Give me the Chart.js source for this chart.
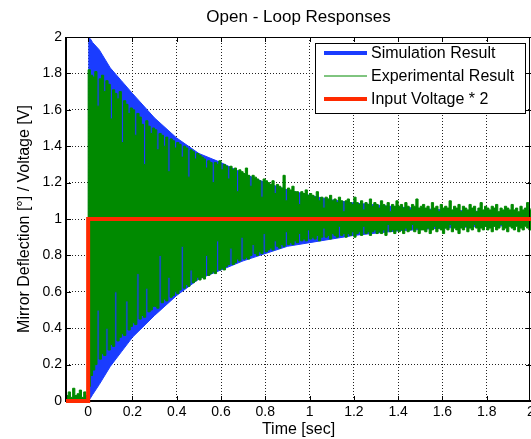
<!DOCTYPE html>
<html>
<head>
<meta charset="utf-8">
<script src="https://cdn.jsdelivr.net/npm/chart.js@4.4.1/dist/chart.umd.min.js"></script>
<style>
  html, body { margin: 0; padding: 0; background: #fff; }
  #wrap { width: 531px; height: 439px; }
</style>
</head>
<body>
<div id="wrap"><canvas id="grafico" width="531" height="439"></canvas></div>
<script>
const fonte = '"Liberation Sans", Arial, Helvetica, sans-serif';

// --- Eixos ---
const xTicks = [0, 0.2, 0.4, 0.6, 0.8, 1, 1.2, 1.4, 1.6, 1.8, 2];
const xTickLabels = ["0", "0.2", "0.4", "0.6", "0.8", "1", "1.2", "1.4", "1.6", "1.8", "2"];
const yTicks = [0, 0.2, 0.4, 0.6, 0.8, 1, 1.2, 1.4, 1.6, 1.8, 2];
const yTickLabels = ["0", "0.2", "0.4", "0.6", "0.8", "1", "1.2", "1.4", "1.6", "1.8", "2"];

// --- Simulação (envelope da oscilação) ---
const simTempo = [0, 0.01, 0.02, 0.05, 0.1, 0.15, 0.2, 0.3, 0.4, 0.5, 0.6, 0.7, 0.8, 0.9, 1.0, 1.1, 1.2, 1.4, 1.6, 1.8, 2.0];
const simSuperior = [2.0, 1.99, 1.97, 1.93, 1.83, 1.76, 1.69, 1.555, 1.445, 1.36, 1.31, 1.25, 1.20, 1.16, 1.13, 1.105, 1.088, 1.066, 1.05, 1.04, 1.03];
const simInferior = [0, 0.015, 0.035, 0.09, 0.19, 0.27, 0.35, 0.47, 0.58, 0.67, 0.72, 0.77, 0.81, 0.85, 0.87, 0.89, 0.91, 0.935, 0.95, 0.96, 0.965];

// --- Experimental (envelope amostrado a cada 0.01 s, começando em -0.1 s) ---
const expInicio = -0.1;
const expPasso = 0.01;
const expSuperior = [
  0.03, 0.05, 0.02, 0.07, 0.03, 0.04, 0.06, 0.02, 0.05, 0.03,
  1.82, 1.79, 1.78, 1.81, 1.62, 1.77, 1.79, 1.70, 1.76, 1.74,
  1.55, 1.71, 1.69, 1.66, 1.70, 1.42, 1.65, 1.63, 1.58, 1.61,
  1.60, 1.46, 1.58, 1.56, 1.52, 1.30, 1.54, 1.51, 1.47, 1.50,
  1.49, 1.38, 1.47, 1.46, 1.40, 1.45, 1.26, 1.44, 1.43, 1.39,
  1.42, 1.41, 1.34, 1.40, 1.39, 1.23, 1.38, 1.37, 1.33, 1.36,
  1.35,
  1.34, 1.33, 1.28, 1.32, 1.31, 1.20, 1.31, 1.30, 1.32, 1.27,
  1.30, 1.29, 1.22, 1.29, 1.27, 1.28, 1.15, 1.27, 1.26, 1.25,
  1.28, 1.24, 1.18, 1.24, 1.23, 1.22, 1.21, 1.12, 1.22, 1.21,
  1.20, 1.19, 1.21, 1.14, 1.19, 1.18, 1.17, 1.24, 1.10, 1.17,
  1.16, 1.18, 1.15, 1.15, 1.08, 1.15, 1.14, 1.16, 1.13, 1.14,
  1.13, 1.12, 1.15, 1.10, 1.12, 1.06, 1.12, 1.11, 1.13, 1.10,
  1.11, 1.09, 1.12, 1.10, 1.04, 1.10, 1.11, 1.09, 1.08, 1.12,
  1.09, 1.08, 1.10, 1.05, 1.09, 1.08, 1.11, 1.07, 1.09, 1.08,
  1.06, 1.10, 1.08, 1.07, 1.09, 1.04, 1.08, 1.07, 1.10, 1.07,
  1.08, 1.06, 1.09, 1.07, 1.05, 1.08, 1.07, 1.11, 1.06, 1.07,
  1.08, 1.06, 1.07, 1.05, 1.09, 1.06, 1.07, 1.04, 1.08, 1.06,
  1.07, 1.06, 1.10, 1.05, 1.07, 1.06, 1.08, 1.04, 1.07, 1.06,
  1.05, 1.08, 1.06, 1.07, 1.04, 1.06, 1.09, 1.05, 1.07, 1.06,
  1.05, 1.07, 1.06, 1.08, 1.04, 1.06, 1.05, 1.07, 1.06, 1.05,
  1.08, 1.05, 1.06, 1.04, 1.07, 1.05, 1.06, 1.09, 1.05, 1.06
];
const expInferior = [
  0, 0, 0, 0, 0, 0, 0, 0, 0, 0,
  0.08, 0.14, 0.17, 0.20, 0.50, 0.23, 0.26, 0.25, 0.40, 0.28,
  0.31, 0.30, 0.60, 0.33, 0.35, 0.37, 0.36, 0.55, 0.39, 0.41,
  0.43, 0.42, 0.70, 0.45, 0.47, 0.46, 0.62, 0.49, 0.50, 0.52,
  0.52, 0.51, 0.80, 0.54, 0.56, 0.55, 0.68, 0.57, 0.58, 0.60,
  0.59, 0.61, 0.85, 0.62, 0.64, 0.63, 0.72, 0.65, 0.66, 0.68,
  0.665,
  0.68, 0.67, 0.80, 0.69, 0.70, 0.71, 0.70, 0.88, 0.72, 0.73,
  0.72, 0.74, 0.75, 0.84, 0.75, 0.76, 0.78, 0.77, 0.90, 0.78,
  0.79, 0.78, 0.80, 0.86, 0.81, 0.80, 0.82, 0.81, 0.92, 0.82,
  0.83, 0.84, 0.83, 0.88, 0.85, 0.84, 0.86, 0.85, 0.93, 0.86,
  0.87, 0.86, 0.88, 0.87, 0.92, 0.88, 0.89, 0.88, 0.94, 0.89,
  0.90, 0.89, 0.91, 0.88, 0.90, 0.95, 0.90, 0.91, 0.89, 0.92,
  0.91, 0.90, 0.96, 0.91, 0.92, 0.90, 0.92, 0.91, 0.93, 0.90,
  0.92, 0.93, 0.91, 0.96, 0.92, 0.93, 0.91, 0.93, 0.94, 0.92,
  0.93, 0.92, 0.94, 0.91, 0.97, 0.93, 0.94, 0.92, 0.94, 0.93,
  0.94, 0.92, 0.95, 0.93, 0.94, 0.97, 0.93, 0.95, 0.92, 0.94,
  0.94, 0.93, 0.95, 0.92, 0.94, 0.96, 0.93, 0.95, 0.94, 0.92,
  0.95, 0.94, 0.97, 0.93, 0.95, 0.94, 0.92, 0.95, 0.94, 0.96,
  0.93, 0.95, 0.94, 0.97, 0.95, 0.93, 0.95, 0.94, 0.96, 0.94,
  0.95, 0.93, 0.96, 0.94, 0.95, 0.97, 0.94, 0.95, 0.93, 0.96,
  0.95, 0.94, 0.96, 0.93, 0.95, 0.94, 0.96, 0.95, 0.94, 0.95
];

// --- Entrada (tensão * 2) ---
const entradaTempo = [-0.1, 0, 0, 2];
const entradaValor = [0, 0, 1, 1];

const azul = "#1a3cff";
const verde = "#008a00";
const vermelho = "#ff2a00";

const pontos = (xs, ys) => ys.map((y, i) => ({ x: xs[i], y }));
const expTempo = expSuperior.map((_, i) => +(expInicio + i * expPasso).toFixed(2));

// --- Moldura, marcas internas, título e legenda ---
const moldura = {
  id: "moldura",
  beforeDatasetDraw(chart, args) {
    if (args.index !== 4) return;
    const { ctx, chartArea: a, scales } = chart;
    ctx.save();
    ctx.strokeStyle = "#000";
    ctx.lineWidth = 1;
    ctx.beginPath();
    xTicks.forEach(v => {
      const px = Math.round(scales.x.getPixelForValue(v)) + 0.5;
      ctx.moveTo(px, a.bottom); ctx.lineTo(px, a.bottom - 5);
      ctx.moveTo(px, a.top); ctx.lineTo(px, a.top + 5);
    });
    yTicks.forEach(v => {
      const py = Math.round(scales.y.getPixelForValue(v)) + 0.5;
      ctx.moveTo(a.left, py); ctx.lineTo(a.left + 5, py);
      ctx.moveTo(a.right, py); ctx.lineTo(a.right - 5, py);
    });
    ctx.stroke();
    ctx.beginPath();
    ctx.moveTo(a.left, a.top + 0.5); ctx.lineTo(a.right, a.top + 0.5);
    ctx.moveTo(a.right - 1.5, a.top); ctx.lineTo(a.right - 1.5, a.bottom);
    ctx.stroke();
    ctx.lineWidth = 2;
    ctx.beginPath();
    ctx.moveTo(a.left, a.top); ctx.lineTo(a.left, a.bottom);
    ctx.lineTo(a.right, a.bottom);
    ctx.stroke();
    ctx.restore();
  },
  afterDraw(chart) {
    const { ctx, chartArea: a } = chart;
    ctx.save();
    ctx.fillStyle = "#000";
    ctx.font = "17px " + fonte;
    ctx.textAlign = "center";
    ctx.textBaseline = "middle";
    ctx.fillText("Open - Loop Responses", (a.left + a.right) / 2, 17);

    // legenda
    ctx.fillStyle = "#fff";
    ctx.fillRect(315, 43, 211, 71);
    ctx.strokeStyle = "#000";
    ctx.lineWidth = 1;
    ctx.strokeRect(315.5, 43.5, 210, 70);
    const itens = [
      { ds: chart.data.datasets[0], y: 53, w: 4 },
      { ds: chart.data.datasets[2], y: 76, w: 1 },
      { ds: chart.data.datasets[4], y: 99, w: 4 }
    ];
    ctx.font = "16px " + fonte;
    ctx.textAlign = "left";
    itens.forEach(it => {
      ctx.strokeStyle = it.ds.borderColor;
      ctx.lineWidth = it.w;
      ctx.beginPath();
      ctx.moveTo(324, it.y); ctx.lineTo(367, it.y);
      ctx.stroke();
      ctx.fillStyle = "#000";
      ctx.fillText(it.ds.label, 371, it.y + 1);
    });
    ctx.restore();
  }
};

const ctx = document.getElementById("grafico").getContext("2d");
new Chart(ctx, {
  type: "line",
  data: {
    datasets: [
      {
        label: "Simulation Result",
        data: pontos(simTempo, simSuperior),
        borderColor: azul, borderWidth: 1, pointRadius: 0, fill: false, order: 3
      },
      {
        label: "sim-inf",
        data: pontos(simTempo, simInferior),
        borderColor: azul, backgroundColor: azul, borderWidth: 1, pointRadius: 0, fill: "-1", order: 3
      },
      {
        label: "Experimental Result",
        data: pontos(expTempo, expSuperior),
        borderColor: verde, borderWidth: 1, pointRadius: 0, stepped: true, fill: false, order: 2
      },
      {
        label: "exp-inf",
        data: pontos(expTempo, expInferior),
        borderColor: verde, backgroundColor: verde, borderWidth: 1, pointRadius: 0, stepped: true, fill: "-1", order: 2
      },
      {
        label: "Input Voltage * 2",
        data: pontos(entradaTempo, entradaValor),
        borderColor: vermelho, borderWidth: 4, pointRadius: 0, fill: false, clip: false,
        borderCapStyle: "butt", borderJoinStyle: "miter", order: 1
      }
    ]
  },
  options: {
    responsive: false,
    animation: false,
    devicePixelRatio: 1,
    layout: { padding: { top: 37, right: 0, left: 0, bottom: 0 } },
    plugins: { legend: { display: false }, title: { display: false }, tooltip: { enabled: false } },
    scales: {
      x: {
        type: "linear", min: -0.1, max: 2,
        afterBuildTicks: s => { s.ticks = xTicks.map(v => ({ value: v })); },
        afterFit: s => { s.height = 38; s.paddingLeft = 0; s.paddingRight = 0; },
        ticks: {
          callback: (v, i) => xTickLabels[i],
          color: "#000", font: { family: fonte, size: 14 }, padding: 3,
          maxRotation: 0, autoSkip: false
        },
        grid: { color: "#222", lineWidth: 1, drawTicks: false },
        border: { display: false, dash: [1, 2] },
        title: { display: true, text: "Time [sec]", color: "#000", font: { family: fonte, size: 16 }, padding: { top: 0, bottom: 0 } }
      },
      y: {
        type: "linear", min: 0, max: 2,
        afterBuildTicks: s => { s.ticks = yTicks.map(v => ({ value: v })); },
        afterFit: s => { s.width = 66; s.paddingTop = 0; s.paddingBottom = 0; },
        ticks: {
          callback: (v, i) => yTickLabels[i],
          color: "#000", font: { family: fonte, size: 14 }, padding: 4
        },
        grid: { color: "#222", lineWidth: 1, drawTicks: false },
        border: { display: false, dash: [1, 2] },
        title: { display: true, text: "Mirror Deflection [°] / Voltage [V]", color: "#000", font: { family: fonte, size: 16 }, padding: { top: 15, bottom: 0 } }
      }
    }
  },
  plugins: [moldura]
});
</script>
</body>
</html>
